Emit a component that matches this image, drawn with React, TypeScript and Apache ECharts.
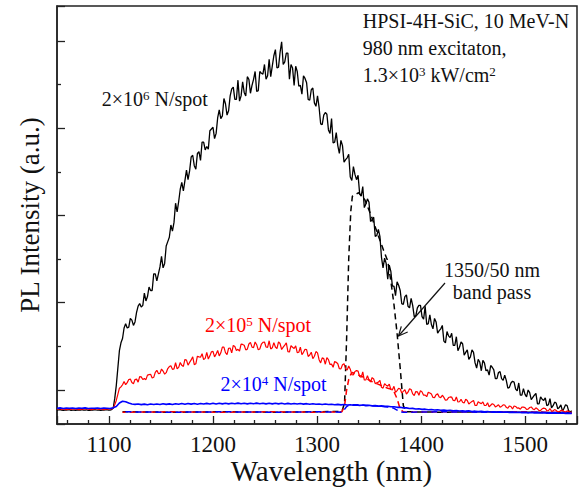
import React, { useEffect, useRef } from "react";
import * as echarts from "echarts";

// Wavelength grids for the solid spectra: main samples at 1050, 1053, ... nm,
// in-between samples at 1051.5, 1054.5, ... nm
const WL_START = 1050;
const WL_STEP = 3;
const WL_MID_START = 1051.5;

// 2x10^6 N/spot (black), main samples
const BLACK = [
  -23, -22.5, -23.5, -23, -22.5, -23, -23.5, -23, -22.5, -23,
  -23.5, -23, -22.5, -23, -23.5, -23, -22.5, -23, -21, 5,
  45, 59, 76, 72, 80, 78, 96, 95, 111, 107,
  114, 133, 125, 141, 140, 165, 175, 182, 214, 216,
  238, 240, 241, 267, 257, 271, 263, 284, 279, 297,
  301, 294, 321, 314, 328, 320, 345, 333, 355, 337,
  341, 359, 340, 356, 342, 365, 362, 356, 379, 371,
  390, 370, 399, 376, 386, 373, 349, 365, 349, 360,
  352, 332, 346, 325, 324, 304, 318, 298, 311, 284,
  280, 286, 261, 266, 244, 256, 241, 225, 233, 213,
  215, 195, 176, 184, 152, 151, 127, 136, 119, 124,
  114, 98, 109, 94, 97, 85, 97, 84, 96, 76,
  75, 82, 65, 70, 56, 67, 60, 51, 61, 49,
  53, 43, 35, 46, 31, 35, 22, 31, 23, 28,
  23, 13, 21, 11, 11, 3, 10, 1, 8, -6,
  -5, 0, -11, -6, -16, -8, -12, -18, -10, -18,
  -15, -20, -24, -17, -24, -24,
];
// 2x10^6 N/spot (black), in-between samples
const BLACK_MID = [
  -22.8, -23.2, -23, -22.7, -23.3, -23, -22.8, -23.2, -23, -22.7,
  -23.3, -23, -22.8, -23.2, -23, -22.7, -23.1, -22.5, -10, 25,
  54, 71, 71, 82, 74, 89, 99, 97, 102, 118,
  114, 133, 133, 153, 145, 170, 189, 192, 204, 230,
  228, 252, 251, 269, 253, 273, 284, 275, 276, 299,
  288, 312, 311, 334, 315, 337, 347, 333, 331, 353,
  337, 356, 349, 365, 343, 363, 373, 360, 359, 383,
  369, 387, 373, 386, 356, 369, 371, 348, 339, 357,
  333, 344, 329, 337, 305, 315, 316, 294, 283, 295,
  271, 280, 264, 270, 240, 247, 246, 222, 209, 219,
  193, 198, 177, 176, 140, 145, 143, 119, 108, 120,
  99, 107, 96, 105, 84, 94, 97, 81, 75, 86,
  70, 78, 68, 74, 54, 62, 65, 51, 45, 55,
  40, 46, 38, 43, 25, 32, 34, 22, 17, 26,
  13, 20, 13, 17, 2, 8, 9, -1, -6, 1.5,
  -8, -3, -8.5, -4, -16, -10.5, -9, -17, -20.5, -14,
  -21.5, -17, -21, -18, -25,
];

// 2x10^5 N/spot (red), main samples
const RED = [
  -22, -21.5, -22, -22.5, -22, -21.5, -22, -22.5, -22, -21.5,
  -22, -22.5, -22, -21.5, -22, -22.5, -22, -21.5, -21, -12,
  2, 6, 6, 12, 8.5, 12, 9, 15, 13, 17,
  18, 14.5, 22.5, 19, 21.7, 19.8, 26.8, 23.6, 31.2, 25.9,
  28.2, 35, 28.4, 34.4, 29, 38.7, 37.5, 34.8, 43, 39.1,
  44.2, 41.1, 39, 49, 42.7, 47.8, 42.5, 49.7, 46.6, 52.6,
  51.3, 46.8, 54.5, 48.6, 51.9, 47, 54.6, 49.2, 56.4, 48.3,
  49.2, 55, 46.4, 51.4, 44, 50.7, 47.5, 42.8, 49, 43.1,
  46.2, 40.1, 36, 44, 34.7, 36.8, 29.5, 34.7, 29.6, 32.6,
  30, 24.2, 30, 22.8, 23.8, 17.4, 22.2, 15.4, 20.8, 11.6,
  11.6, 14.2, 7.2, 9, 3.1, 7.1, 4.4, 0.5, 4.2, -0.7,
  1.1, -1.6, -4.7, 1.3, -4.5, -1.8, -6, -2.2, -5.9, -2.6,
  -4.7, -8.8, -4.5, -8.8, -8.5, -11.3, -8, -12, -8, -13.5,
  -14, -10.7, -16, -13.2, -17.8, -13.5, -15.7, -17.8, -14.7, -17.5,
  -16.7, -18.4, -19.6, -17, -19.9, -18.3, -21.8, -18.9, -20.5, -19.6,
  -20.2, -22, -19.5, -22.5, -21.7, -23.4, -20.8, -23.6, -21.2, -23.9,
  -23.6, -24.9, -23.2, -25.5, -24.4, -25.2,
];
// 2x10^5 N/spot (red), in-between samples
const RED_MID = [
  -21.8, -22.2, -22, -21.7, -22.3, -22, -21.8, -22.2, -22, -21.7,
  -22.3, -22, -21.8, -22.2, -22, -21.7, -22.1, -21.8, -17, -5,
  3.5, 9.8, 8.4, 12.5, 7.2, 12.4, 15.2, 12, 11.8, 17.6,
  13.7, 20.1, 18.8, 24, 18.1, 24.5, 27.7, 24.2, 24.3, 31.5,
  26.9, 34.2, 31.6, 38, 30, 37.9, 41.5, 36.2, 35.5, 43.7,
  37.9, 45.2, 42.6, 49, 40.5, 47.9, 51, 45.2, 44.5, 52.2,
  45.9, 52.7, 49.1, 55, 46, 52.4, 55, 48.7, 47, 54.2,
  47.4, 53.2, 49.1, 54, 43.5, 48.9, 50.5, 43.2, 40.5, 46.7,
  38.4, 43.2, 38.6, 42.5, 31, 35.9, 37, 29.2, 26, 31.7,
  24.3, 28.9, 24.2, 27.5, 17.6, 21.2, 21.6, 14.5, 11.4, 16.3,
  9.2, 12.6, 8.3, 11, 2.1, 5.5, 6.7, 0.2, -2.7, 2,
  -3.4, 0.3, -2.6, 0.5, -6.3, -2.1, -0.8, -6, -7.7, -3.4,
  -8.5, -5.5, -8, -6, -11.8, -8.7, -8.2, -12.3, -13.8, -10.7,
  -15, -12, -14.5, -12, -17.8, -14.8, -13.7, -17.8, -19.3, -15.8,
  -19.4, -16.9, -18.9, -17.2, -21, -19, -18.4, -20.9, -22.1, -19.7,
  -22.2, -20.1, -21.8, -20.5, -23.7, -21.6, -21.2, -23.8, -24.4, -22.5,
  -25.2, -23.5, -24.8, -24, -25.8,
];

// 2x10^4 N/spot (blue)
const BLUE = [
  -21, -20.5, -21.2, -20.8, -21, -20.6, -21.3, -20.8, -21, -20.5,
  -21.2, -20.9, -21, -20.6, -21.3, -20.8, -21, -21.2, -20.5, -19,
  -15, -13, -13.5, -15, -16, -16.5, -16, -16.8, -16.2, -16.9,
  -16.1, -16.7, -16, -16.6, -15.8, -16.5, -15.9, -16.6, -15.7, -16.4,
  -15.6, -16.3, -15.5, -16.2, -15.6, -16.3, -15.5, -16.1, -15.4, -16,
  -15.3, -16, -15.2, -15.9, -15.3, -15.9, -15.2, -15.8, -15.1, -15.8,
  -15.2, -15.9, -15.2, -15.8, -15.1, -15.8, -15.2, -15.9, -15.3, -15.9,
  -15.2, -15.9, -15.3, -16, -15.4, -16, -15.5, -16.1, -15.6, -16.2,
  -15.7, -16.3, -15.8, -16.4, -16, -16.6, -16.1, -16.7, -16.3, -16.9,
  -16.5, -17.1, -16.7, -17.3, -16.9, -17.5, -17.1, -17.7, -17.3, -17.9,
  -17.6, -18.2, -17.9, -18.5, -18.2, -18.8, -18.6, -19.3, -19.2, -19.9,
  -19.8, -20.5, -20.5, -21.2, -21.1, -21.8, -21.6, -22.2, -22, -22.6,
  -22.4, -23, -22.7, -23.3, -23, -23.6, -23.3, -23.9, -23.6, -24.1,
  -23.8, -24.3, -24, -24.6, -24.3, -24.8, -24.5, -25, -24.7, -25.2,
  -24.9, -25.4, -25.1, -25.6, -25.3, -25.7, -25.4, -25.9, -25.6, -26,
  -25.8, -26.2, -25.9, -26.3, -26, -26.4, -26.1, -26.5, -26.2, -26.6,
  -26.3, -26.7, -26.4, -26.8, -26.5, -26.8,
];

// Through the 1350/50 nm band-pass filter (dashed curves)
const BP_WL = [
  1113, 1160, 1210, 1260, 1300, 1324, 1326.5, 1328.5, 1330.5, 1332.5,
  1334, 1340, 1346, 1352, 1358, 1364, 1368, 1371, 1374, 1377,
  1380, 1383, 1386, 1420, 1460, 1500, 1545,
];
const BP_BLACK = [
  -25, -25.5, -25, -25.5, -25, -24.5, -15, 60, 150, 205,
  222, 226, 218, 200, 180, 160, 148, 125, 98, 65,
  25, -18, -25, -25.5, -25, -25.5, -26,
];
const BP_RED = [
  -25.5, -25, -25.5, -25, -25.5, -25, -18, 0, 12, 18,
  20, 17, 14, 10, 7, 4, 2, 1, -2, -10,
  -22, -25, -25.5, -25, -25.5, -25, -26,
];
const BP_BLUE = [
  -25, -25.5, -25, -25.5, -25, -25.5, -22, -19, -17.5, -17,
  -17, -17, -17.5, -18, -18.5, -19, -19.5, -20, -21, -23,
  -25, -25.5, -25.5, -25, -25.5, -25.5, -26,
];

const FONT = "Liberation Serif, Times New Roman, serif";
const INK = "#111111";

function onGrid(vals: number[], start = WL_START) {
  return vals.map((v, i) => [start + i * WL_STEP, v]);
}
function merged(main: number[], mid: number[]) {
  return onGrid(main).concat(onGrid(mid, WL_MID_START)).sort((a, b) => a[0] - b[0]);
}
function zipPairs(xs: number[], ys: number[]) {
  return xs.map((x, i) => [x, ys[i]]);
}

function label(text: string, x: number, y: number, color: string, align = "left") {
  return {
    type: "text",
    x,
    y,
    silent: true,
    style: {
      text,
      fill: color,
      fontSize: 20,
      fontFamily: FONT,
      lineHeight: 20,
      align,
      verticalAlign: "middle",
      rich: {
        sup: {
          fontSize: 13,
          fontFamily: FONT,
          lineHeight: 13,
          verticalAlign: "top",
          fill: color,
        },
      },
    },
  };
}

export default function App() {
  const ref = useRef<HTMLDivElement>(null);

  useEffect(() => {
    if (!ref.current) return;
    const chart = echarts.init(ref.current, undefined, { renderer: "svg" });

    const axisLine = { show: true, onZero: false, lineStyle: { color: "#222", width: 1.5 } };

    const solid = (data: number[][], color: string, width: number, z: number) => ({
      type: "line",
      data,
      symbol: "none",
      showSymbol: false,
      silent: true,
      z,
      lineStyle: { color, width },
    });
    const dashed = (data: number[][], color: string, offset: number, z: number) => ({
      type: "line",
      data,
      symbol: "none",
      showSymbol: false,
      silent: true,
      z,
      lineStyle: { color, width: 1.5, type: [6, 4], dashOffset: offset },
    });

    chart.setOption({
      animation: false,
      grid: {
        left: 57,
        right: 2,
        top: 6,
        bottom: 64,
        containLabel: false,
        outerBoundsMode: "none",
        show: true,
        borderColor: "#222",
        borderWidth: 1.5,
        backgroundColor: "transparent",
      },
      xAxis: {
        type: "value",
        min: 1050,
        max: 1550,
        splitNumber: 5,
        minInterval: 100,
        maxInterval: 100,
        axisLine,
        axisTick: { show: true, inside: true, length: 8, lineStyle: { color: "#222", width: 1.3 } },
        minorTick: { show: true, splitNumber: 5, length: 4, lineStyle: { color: "#222", width: 1.3 } },
        splitLine: { show: false },
        axisLabel: {
          showMinLabel: false,
          showMaxLabel: false,
          fontSize: 23,
          fontFamily: FONT,
          color: INK,
          margin: 9,
          formatter: (v: number) => String(v),
        },
      },
      yAxis: {
        type: "value",
        min: -39,
        max: 440,
        splitNumber: 5,
        minInterval: 100,
        maxInterval: 100,
        axisLine,
        axisTick: { show: true, inside: true, length: 8, lineStyle: { color: "#222", width: 1.3 } },
        minorTick: { show: true, splitNumber: 2, length: 4, lineStyle: { color: "#222", width: 1.3 } },
        splitLine: { show: false },
        axisLabel: { show: false },
        name: "PL Intensity (a.u.)",
        nameLocation: "middle",
        nameGap: 14,
        nameTextStyle: { fontSize: 27, fontFamily: FONT, color: INK },
      },
      series: [
        dashed(zipPairs(BP_WL, BP_BLACK), "#000000", 0, 1),
        dashed(zipPairs(BP_WL, BP_RED), "#ff0000", 3, 2),
        dashed(zipPairs(BP_WL, BP_BLUE), "#0000ff", 7, 3),
        solid(merged(BLACK, BLACK_MID), "#000000", 1.3, 4),
        solid(merged(RED, RED_MID), "#ff0000", 1.2, 5),
        solid(onGrid(BLUE), "#0000ff", 1.6, 6),
      ],
      graphic: [
        {
          type: "text",
          x: 331.5,
          y: 471,
          silent: true,
          style: {
            text: "Wavelength (nm)",
            fill: INK,
            fontSize: 29,
            fontFamily: FONT,
            lineHeight: 29,
            align: "center",
            verticalAlign: "middle",
          },
        },
        label("2×10{sup|6} N/spot", 101.7, 98.5, INK),
        label("2×10{sup|5} N/spot", 205, 325, "#ff0000"),
        label("2×10{sup|4} N/spot", 220.5, 383.5, "#0000ff"),
        label("HPSI-4H-SiC, 10 MeV-N", 362.7, 21.4, INK),
        label("980 nm excitaton,", 362.7, 48.4, INK),
        label("1.3×10{sup|3} kW/cm{sup|2}", 362.7, 75.4, INK),
        label("1350/50 nm", 492, 269.5, INK, "center"),
        label("band pass", 492, 291.8, INK, "center"),
        {
          type: "line",
          silent: true,
          shape: { x1: 445, y1: 283, x2: 398.5, y2: 336 },
          style: { stroke: INK, lineWidth: 1.2 },
        },
        {
          type: "polyline",
          silent: true,
          shape: { points: [[407.7, 332], [398.5, 336], [401.3, 326.4]] },
          style: { stroke: INK, lineWidth: 1.2, fill: null },
        },
      ],
    });

    return () => chart.dispose();
  }, []);

  return (
    <div
      ref={ref}
      style={{ position: "absolute", left: 0, top: 0, width: 579, height: 488 }}
    />
  );
}
